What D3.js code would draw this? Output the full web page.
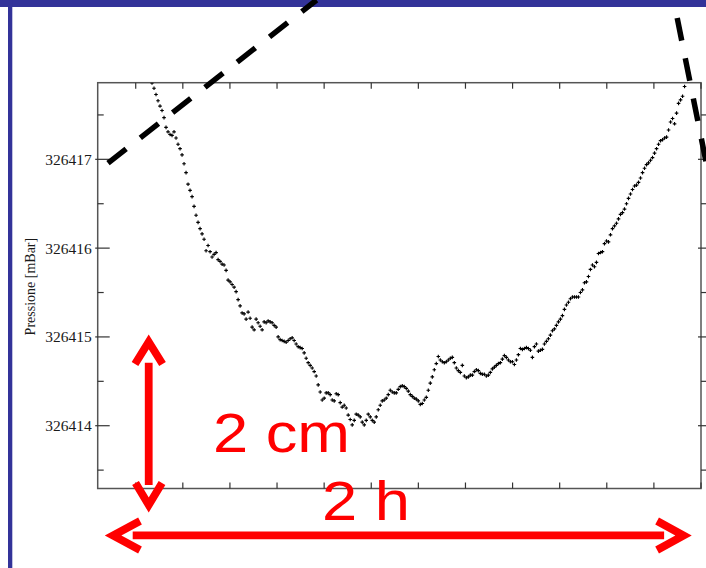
<!DOCTYPE html>
<html><head><meta charset="utf-8">
<script src="https://cdn.jsdelivr.net/npm/d3@7"></script>
<style>body{margin:0;background:#fff}</style>
</head><body><svg id="c" width="706" height="568"></svg>
<script>
// sampled time series: first sample time and sampling interval (minutes)
const startMin = 13.46, stepMin = 0.425;
const pressure = [
326417.86,326417.80,326417.73,326417.66,326417.60,326417.55,326417.47,326417.36,326417.31,326417.28,
326417.27,326417.31,326417.24,326417.17,326417.12,326417.05,326416.95,326416.85,326416.72,326416.65,
326416.58,326416.47,326416.37,326416.29,326416.22,326416.16,326416.10,326415.97,326416.03,326415.96,
326415.90,326415.93,326415.95,326415.87,326415.85,326415.82,326415.81,326415.75,326415.64,326415.62,
326415.59,326415.56,326415.51,326415.42,326415.35,326415.27,326415.26,326415.20,326415.28,326415.21,
326415.11,326415.08,326415.20,326415.16,326415.12,326415.08,326415.17,326415.16,326415.18,326415.17,
326415.16,326415.13,326415.11,326415.00,326414.97,326414.96,326414.95,326414.94,326414.96,326414.98,
326414.99,326414.96,326414.92,326414.89,326414.88,326414.87,326414.82,326414.76,326414.71,326414.68,
326414.65,326414.61,326414.56,326414.46,326414.38,326414.29,326414.31,326414.37,326414.37,326414.35,
326414.29,326414.28,326414.36,326414.35,326414.26,326414.21,326414.23,326414.20,326414.12,326414.07,
326414.01,326414.06,326414.13,326414.12,326414.10,326414.04,326414.01,326414.06,326414.13,326414.10,
326414.06,326414.04,326414.10,326414.18,326414.23,326414.28,326414.29,326414.31,326414.35,326414.40,
326414.38,326414.37,326414.37,326414.41,326414.44,326414.45,326414.44,326414.42,326414.39,326414.35,
326414.33,326414.31,326414.30,326414.28,326414.24,326414.25,326414.29,326414.32,326414.40,326414.48,
326414.55,326414.63,326414.70,326414.78,326414.74,326414.72,326414.71,326414.72,326414.74,326414.76,
326414.77,326414.71,326414.65,326414.62,326414.60,326414.68,326414.56,326414.54,326414.55,326414.57,
326414.57,326414.61,326414.63,326414.62,326414.59,326414.58,326414.58,326414.56,326414.57,326414.60,
326414.64,326414.66,326414.68,326414.70,326414.71,326414.75,326414.79,326414.77,326414.74,326414.72,
326414.72,326414.69,326414.74,326414.80,326414.87,326414.86,326414.87,326414.88,326414.87,326414.85,
326414.77,326414.89,326414.92,326414.84,326414.85,326414.86,326414.92,326414.95,326414.98,326415.02,
326415.07,326415.09,326415.13,326415.17,326415.20,326415.24,326415.31,326415.36,326415.39,326415.43,
326415.45,326415.45,326415.45,326415.45,326415.50,326415.53,326415.61,326415.62,326415.68,326415.76,
326415.81,326415.79,326415.84,326415.94,326415.95,326415.96,326416.05,326416.08,326416.07,326416.15,
326416.22,326416.25,326416.28,326416.33,326416.38,326416.40,326416.44,326416.50,326416.56,326416.61,
326416.66,326416.70,326416.71,326416.74,326416.79,326416.85,326416.90,326416.94,326416.96,326416.99,
326417.02,326417.07,326417.12,326417.17,326417.21,326417.22,326417.24,326417.25,326417.33,326417.42,
326417.46,326417.40,326417.52,326417.63,326417.67,326417.71,326417.82
];
const xDomain = [1.93, 130];
const yDomain = [326413.293, 326417.863];
const xTicks = [10,20,30,40,50,60,70,80,90,100,110,120,130];
const yTicks = [326414, 326415, 326416, 326417];
const yMinorTicks = [326413.5, 326414.5, 326415.5, 326416.5, 326417.5];
const yLabel = "Pressione [mBar]";
// annotations, in data units (minutes, mBar)
const tangentA = [[4.12, 326416.958], [48.39, 326418.794]];
const tangentB = [[124.95, 326418.591], [131.9, 326416.75]];
const arrowV = [
  [[12.76, 326414.709], [12.76, 326413.332]],
  [[9.85, 326414.695], [12.76, 326414.943], [15.69, 326414.695]],
  [[9.96, 326413.355], [12.76, 326413.107], [15.58, 326413.355]]
];
const arrowH = [
  [[9.36, 326412.764], [122.17, 326412.764]],
  [[10.91, 326412.927], [5.18, 326412.764], [10.91, 326412.600]],
  [[120.68, 326412.927], [126.31, 326412.764], [120.68, 326412.600]]
];
const labels = [
  {text: "2 cm", t: 26.41, v: 326413.704},
  {text: "2 h", t: 49.55, v: 326412.938}
];

const W = 706, H = 568;
const svg = d3.select("#c");
const x = d3.scaleLinear().domain(xDomain).range([97.7, 701]);
const y = d3.scaleLinear().domain(yDomain).range([488.5, 82.7]);
const [x0, x1] = x.range(), [y0, y1] = y.range();

svg.append("rect").attr("width", W).attr("height", H).attr("fill", "#fff");
// slide frame
svg.append("rect").attr("x", 0).attr("y", 0).attr("width", W).attr("height", 7).attr("fill", "#333399");
svg.append("rect").attr("x", 8).attr("y", 0).attr("width", 4.3).attr("height", H).attr("fill", "#333399");

// plot frame
svg.append("rect").attr("x", x0).attr("y", y1).attr("width", x1 - x0).attr("height", y0 - y1)
  .attr("fill", "none").attr("stroke", "#555").attr("stroke-width", 1.5);

const tk = svg.append("g").attr("stroke", "#333").attr("stroke-width", 1.2);
tk.selectAll(".xt").data(xTicks).join("line").attr("class", "xt")
  .attr("x1", d => x(d)).attr("x2", d => x(d)).attr("y1", y1).attr("y2", y1 + 6);
tk.selectAll(".xb").data(xTicks).join("line").attr("class", "xb")
  .attr("x1", d => x(d)).attr("x2", d => x(d)).attr("y1", y0).attr("y2", y0 - 6);
tk.selectAll(".yl").data(yTicks).join("line").attr("class", "yl")
  .attr("x1", x0 - 2.5).attr("x2", x0 + 12).attr("y1", d => y(d)).attr("y2", d => y(d));
tk.selectAll(".ylm").data(yMinorTicks).join("line").attr("class", "ylm")
  .attr("x1", x0).attr("x2", x0 + 6).attr("y1", d => y(d)).attr("y2", d => y(d));
tk.selectAll(".yr").data(yTicks).join("line").attr("class", "yr")
  .attr("x1", x1 - 3).attr("x2", x1 + 12).attr("y1", d => y(d)).attr("y2", d => y(d));
tk.selectAll(".yrm").data(yMinorTicks).join("line").attr("class", "yrm")
  .attr("x1", x1).attr("x2", x1 + 6).attr("y1", d => y(d)).attr("y2", d => y(d));

svg.append("g").selectAll("text").data(yTicks).join("text")
  .attr("x", x0 - 6).attr("y", d => y(d)).attr("dy", "0.35em")
  .attr("text-anchor", "end").attr("font-family", "Liberation Serif, serif")
  .attr("font-size", 15.5).attr("fill", "#1a1a1a").text(d3.format("d"));

svg.append("text").attr("transform", `translate(35,${(y0 + y1) / 2 + 1}) rotate(-90)`)
  .attr("text-anchor", "middle").attr("font-family", "Liberation Serif, serif")
  .attr("font-size", 14).attr("fill", "#1a1a1a").text(yLabel);

// data points
svg.append("clipPath").attr("id", "pc").append("rect")
  .attr("x", x0).attr("y", y1).attr("width", x1 - x0).attr("height", y0 - y1);
svg.append("g").attr("clip-path", "url(#pc)")
  .selectAll("path").data(pressure).join("path")
  .attr("transform", (d, i) => `translate(${x(startMin + i * stepMin)},${y(d)})`)
  .attr("d", "M-1.8,0H1.8M0,-1.8V1.8")
  .attr("stroke", "#000").attr("stroke-width", 1.15);

// tangent dashed lines
const ln = d3.line().x(d => x(d[0])).y(d => y(d[1]));
svg.selectAll(".tan").data([tangentA, tangentB]).join("path").attr("class", "tan")
  .attr("d", ln).attr("fill", "none").attr("stroke", "#000")
  .attr("stroke-width", 5.5).attr("stroke-dasharray", "23 18");

// red arrows
svg.selectAll(".arr").data(arrowV.concat(arrowH)).join("path").attr("class", "arr")
  .attr("d", ln).attr("fill", "none").attr("stroke", "#ff0000")
  .attr("stroke-width", 7.8).attr("stroke-linejoin", "miter").attr("stroke-linecap", "butt");

svg.selectAll(".lab").data(labels).join("text").attr("class", "lab")
  .attr("transform", d => `translate(${x(d.t)},${y(d.v)}) scale(1.15,1)`)
  .attr("font-family", "Liberation Sans, Arial, sans-serif").attr("font-size", 55)
  .attr("fill", "#ff0000").text(d => d.text);
</script></body></html>
